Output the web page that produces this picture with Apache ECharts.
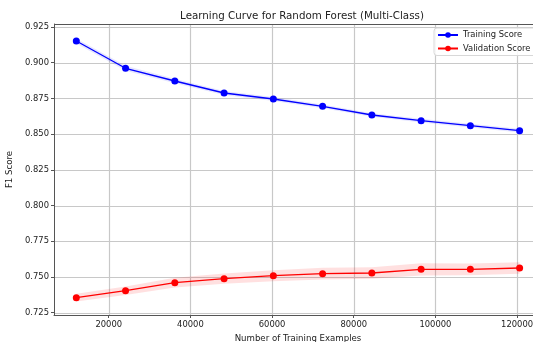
<!DOCTYPE html>
<html>
<head>
<meta charset="utf-8">
<script src="https://cdn.jsdelivr.net/npm/echarts@6/dist/echarts.min.js"></script>
<style>
  html, body { margin: 0; padding: 0; background: #fff; }
  #chart { width: 533px; height: 342px; }
</style>
</head>
<body>
<div id="chart"></div>
<script>
// Training set sizes used for the learning curve
const trainSizes = [12062, 24124, 36186, 48248, 60310, 72372, 84434, 96496, 108558, 120620];
// Mean F1 scores across CV folds
const trainMean = [0.9152, 0.8961, 0.8872, 0.8788, 0.8746, 0.8695, 0.8634, 0.8594, 0.8559, 0.8524];
const valMean   = [0.7355, 0.7404, 0.7460, 0.7488, 0.7509, 0.7523, 0.7528, 0.7554, 0.7554, 0.7563];
// Standard deviation across folds
const trainStd  = [0.0018, 0.0017, 0.0015, 0.0014, 0.0014, 0.0013, 0.0013, 0.0013, 0.0013, 0.0013];
const valStd    = [0.0027, 0.0030, 0.0034, 0.0036, 0.0039, 0.0041, 0.0041, 0.0043, 0.0041, 0.0041];
// Axis tick labels
const xTicks = [20000, 40000, 60000, 80000, 100000, 120000];
const yTicks = [0.725, 0.750, 0.775, 0.800, 0.825, 0.850, 0.875, 0.900, 0.925];

const FONT = 'DejaVu Sans';
const TXT = '#222';

function pairs(xs, ys) { return xs.map((x, i) => [x, ys[i]]); }

// Shaded mean ± std band drawn as one polygon through the axis scales
function bandSeries(name, mean, std, color) {
  const rows = trainSizes.map((x, i) => [x, mean[i] - std[i], mean[i] + std[i]]);
  return {
    name: name, type: 'custom', silent: true, z: 1,
    data: rows,
    encode: { x: 0, y: [1, 2] },
    renderItem: function (params, api) {
      if (params.dataIndex !== 0) return null;
      const upper = rows.map(r => api.coord([r[0], r[2]]));
      const lowerPts = rows.map(r => api.coord([r[0], r[1]])).reverse();
      return {
        type: 'polygon',
        shape: { points: upper.concat(lowerPts) },
        style: { fill: color, stroke: null }
      };
    }
  };
}

// Grid lines at the labelled ticks, plus the top frame edge
function gridSeries() {
  const lines = xTicks.map(v => ({ axis: 'x', v: v })).concat(yTicks.map(v => ({ axis: 'y', v: v })));
  return {
    name: 'gridlines', type: 'custom', silent: true, z: 0,
    data: [0],
    renderItem: function (params, api) {
      const cs = params.coordSys;
      const children = lines.map(l => {
        let shape;
        if (l.axis === 'x') {
          const p = api.coord([l.v, 0.8]);
          shape = { x1: Math.round(p[0]) + 0.5, y1: cs.y, x2: Math.round(p[0]) + 0.5, y2: cs.y + cs.height };
        } else {
          const p = api.coord([60000, l.v]);
          shape = { x1: cs.x, y1: Math.round(p[1]) + 0.5, x2: cs.x + cs.width, y2: Math.round(p[1]) + 0.5 };
        }
        return { type: 'line', shape: shape, style: { stroke: '#c8c8c8', lineWidth: 1.2 } };
      });
      children.push({
        type: 'line',
        shape: { x1: cs.x, y1: cs.y + 0.5, x2: cs.x + cs.width, y2: cs.y + 0.5 },
        style: { stroke: '#555', lineWidth: 1 }
      });
      return { type: 'group', children: children };
    }
  };
}

const chart = echarts.init(document.getElementById('chart'), null, { renderer: 'canvas' });

chart.setOption({
  animation: false,
  backgroundColor: '#fff',
  title: {
    text: 'Learning Curve for Random Forest (Multi-Class)',
    left: 297, top: 6, textAlign: 'center',
    textStyle: { fontFamily: FONT, fontSize: 10.3, fontWeight: 'normal', color: TXT }
  },
  grid: { left: 54, top: 24, right: -9, bottom: 27, containLabel: false, outerBoundsMode: 'none' },
  legend: {
    data: ['Training Score', 'Validation Score'],
    orient: 'vertical', left: 434, top: 28,
    itemWidth: 20, itemHeight: 7, itemGap: 5.5,
    padding: [3, 6, 3, 3],
    borderColor: '#d8d8d8', borderWidth: 1, borderRadius: 3,
    backgroundColor: 'rgba(255,255,255,0.85)',
    textStyle: { fontFamily: FONT, fontSize: 8.4, color: TXT }
  },
  xAxis: {
    type: 'value', min: 6600, max: 126100,
    name: 'Number of Training Examples', nameLocation: 'middle', nameGap: 18,
    nameTextStyle: { fontFamily: FONT, fontSize: 8.6, color: TXT },
    axisLine: { show: true, onZero: false, lineStyle: { color: '#555', width: 1 } },
    axisTick: { show: true, customValues: xTicks, length: 3, lineStyle: { color: '#555' } },
    axisLabel: { customValues: xTicks, fontFamily: FONT, fontSize: 8.4, color: TXT, margin: 6,
                 formatter: v => String(Math.round(v)) },
    splitLine: { show: false }
  },
  yAxis: {
    type: 'value', min: 0.7234, max: 0.9271,
    name: 'F1 Score', nameLocation: 'middle', nameGap: 33, nameRotate: 90,
    nameTextStyle: { fontFamily: FONT, fontSize: 8.6, color: TXT },
    axisLine: { show: true, onZero: false, lineStyle: { color: '#555', width: 1 } },
    axisTick: { show: true, customValues: yTicks, length: 3, lineStyle: { color: '#555' } },
    axisLabel: { customValues: yTicks, fontFamily: FONT, fontSize: 8.4, color: TXT, margin: 5,
                 formatter: v => v.toFixed(3) },
    splitLine: { show: false }
  },
  series: [
    gridSeries(),
    bandSeries('train band', trainMean, trainStd, 'rgba(0,0,255,0.1)'),
    bandSeries('val band', valMean, valStd, 'rgba(255,0,0,0.12)'),
    {
      name: 'Training Score', type: 'line',
      data: pairs(trainSizes, trainMean),
      color: '#0000ff', symbol: 'circle', symbolSize: 7,
      lineStyle: { color: '#0000ff', width: 1.3 },
      itemStyle: { color: '#0000ff' }, z: 3
    },
    {
      name: 'Validation Score', type: 'line',
      data: pairs(trainSizes, valMean),
      color: '#ff0000', symbol: 'circle', symbolSize: 7,
      lineStyle: { color: '#ff0000', width: 1.3 },
      itemStyle: { color: '#ff0000' }, z: 3
    }
  ]
});
</script>
</body>
</html>
